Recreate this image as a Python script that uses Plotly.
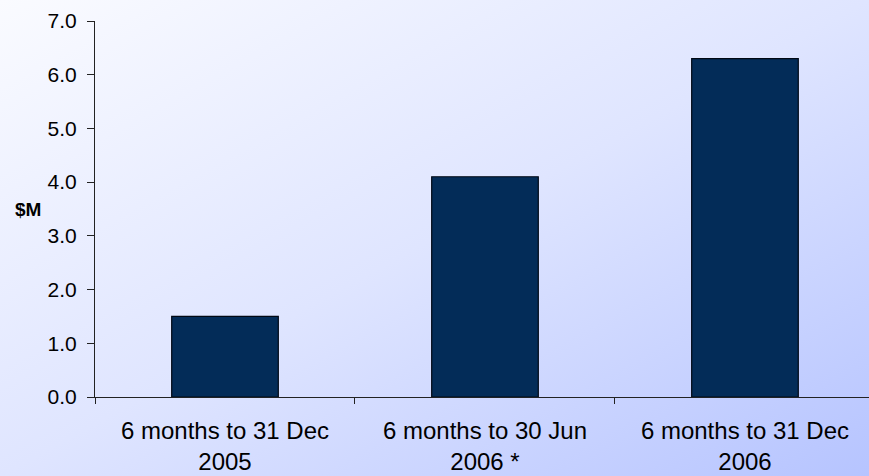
import base64
import plotly.graph_objects as go

categories = ["6 months to 31 Dec<br>2005", "6 months to 30 Jun<br>2006 *", "6 months to 31 Dec<br>2006"]
values = [1.5, 4.1, 6.3]
y_ticks = [0, 1, 2, 3, 4, 5, 6, 7]

FONT = "Liberation Sans, Arial, sans-serif"

svg = (
    '<svg xmlns="http://www.w3.org/2000/svg" width="869" height="476" preserveAspectRatio="none">'
    '<defs><linearGradient id="g" x1="0" y1="0" x2="1" y2="1">'
    '<stop offset="0" stop-color="#fafbff"/>'
    '<stop offset="0.5" stop-color="#dfe5ff"/>'
    '<stop offset="1" stop-color="#b6c4ff"/>'
    '</linearGradient></defs>'
    '<rect width="869" height="476" fill="url(#g)"/></svg>'
)
bg_src = "data:image/svg+xml;base64," + base64.b64encode(svg.encode()).decode()

W, H = 869, 476
ml, mr, mt, mb = 95, 0, 21, 79
pw, ph = W - ml - mr, H - mt - mb

fig = go.Figure()
fig.add_trace(go.Bar(
    x=categories,
    y=values,
    width=0.41,
    marker=dict(color="#032c58", line=dict(color="#000814", width=1.2)),
    hoverinfo="x+y",
))

fig.update_layout(
    width=W, height=H,
    margin=dict(l=ml, r=mr, t=mt, b=mb),
    paper_bgcolor="rgba(0,0,0,0)",
    plot_bgcolor="rgba(0,0,0,0)",
    showlegend=False,
    font=dict(family=FONT, color="#000000"),
    images=[dict(
        source=bg_src, xref="paper", yref="paper",
        x=-ml / pw, y=1 + mt / ph,
        sizex=W / pw, sizey=H / ph,
        sizing="stretch", xanchor="left", yanchor="top",
        layer="below",
    )],
    xaxis=dict(
        type="category",
        range=[-0.5, 2.477],
        tickson="boundaries",
        ticks="outside", ticklen=6, tickcolor="#222222", tickwidth=1,
        ticklabelstandoff=12,
        showline=True, linecolor="#222222", linewidth=1,
        showgrid=False, zeroline=False,
        tickfont=dict(family=FONT, size=24, color="#000000"),
    ),
    yaxis=dict(
        range=[0, 7],
        tickvals=y_ticks,
        tickformat=".1f",
        ticks="outside", ticklen=7, tickcolor="#222222", tickwidth=1,
        ticklabelstandoff=6,
        showline=True, linecolor="#222222", linewidth=1,
        showgrid=False, zeroline=False,
        tickfont=dict(family=FONT, size=21, color="#000000"),
    ),
    annotations=[dict(
        text="<b>$M</b>", xref="paper", yref="y",
        x=(13 - ml) / pw, y=3.5, xanchor="left", yanchor="middle",
        showarrow=False, font=dict(family=FONT, size=19, color="#000000"),
    )],
)

fig.write_html(
    "out.html",
    config={"displayModeBar": False},
    post_script="document.body.style.margin='0';document.body.style.overflow='hidden';",
)
